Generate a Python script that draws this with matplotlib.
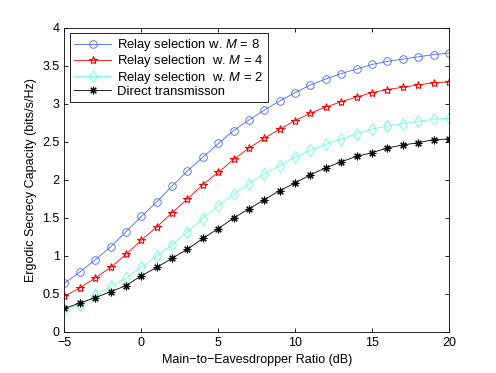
import numpy as np
import matplotlib
matplotlib.use("Agg")
import matplotlib.pyplot as plt

plt.rcParams['font.family'] = ['Liberation Sans', 'DejaVu Sans']
plt.rcParams['mathtext.fontset'] = 'custom'
plt.rcParams['mathtext.it'] = 'Liberation Sans:italic'
plt.rcParams['mathtext.rm'] = 'Liberation Sans'

mer_db = list(range(-5, 21))

relay_m8 = [0.64, 0.79, 0.95, 1.12, 1.32, 1.52, 1.71, 1.92, 2.12, 2.30,
            2.48, 2.65, 2.79, 2.92, 3.04, 3.15, 3.25, 3.33, 3.40, 3.46,
            3.52, 3.56, 3.59, 3.62, 3.65, 3.67]
relay_m4 = [0.47, 0.58, 0.71, 0.85, 1.02, 1.21, 1.38, 1.57, 1.75, 1.94,
            2.10, 2.27, 2.42, 2.55, 2.67, 2.78, 2.88, 2.96, 3.03, 3.09,
            3.15, 3.19, 3.22, 3.25, 3.28, 3.29]
relay_m2 = [0.29, 0.36, 0.48, 0.60, 0.71, 0.85, 1.00, 1.15, 1.32, 1.49,
            1.66, 1.81, 1.95, 2.08, 2.19, 2.30, 2.39, 2.47, 2.54, 2.61,
            2.67, 2.71, 2.74, 2.77, 2.80, 2.81]
direct = [0.31, 0.38, 0.45, 0.53, 0.61, 0.74, 0.85, 0.97, 1.09, 1.23,
          1.36, 1.50, 1.62, 1.74, 1.86, 1.96, 2.07, 2.16, 2.24, 2.31,
          2.36, 2.42, 2.46, 2.49, 2.53, 2.54]

fig = plt.figure(figsize=(4.96, 3.73), dpi=100)
ax = fig.add_axes([0.13, 0.11, 0.775, 0.815])

ms = 5.5
ax.plot(mer_db, relay_m8, '-o', color='#4466ff', mfc='none', ms=ms, lw=0.6, mew=0.6,
        label='Relay selection w. $M$ = 8')
ax.plot(mer_db, relay_m4, '-*', color='#ff0000', mfc='none', ms=ms + 0.5, lw=0.6, mew=0.8,
        label='Relay selection  w. $M$ = 4')
ax.plot(mer_db, relay_m2, '-d', color='#66ffcc', mfc='none', ms=ms + 0.5, lw=0.6, mew=0.6,
        label='Relay selection  w. $M$ = 2')
ax.plot(mer_db, direct, '-', marker=(8, 2, 0), color='black', ms=ms, lw=0.6, mew=0.8,
        label='Direct transmisson')

ax.set_xlim(-5, 20)
ax.set_ylim(0, 4)
ax.set_xticks([-5, 0, 5, 10, 15, 20])
ax.set_yticks(np.arange(0, 4.01, 0.5))
ax.set_yticklabels(['0', '0.5', '1', '1.5', '2', '2.5', '3', '3.5', '4'])
ax.tick_params(direction='in', top=True, right=True, labelsize=9, length=3, width=0.6)
for s in ax.spines.values():
    s.set_linewidth(0.6)

ax.set_xlabel('Main\u2212to\u2212Eavesdropper Ratio (dB)', fontsize=9)
ax.set_ylabel('Ergodic Secrecy Capacity (bits/s/Hz)', fontsize=9)

leg = ax.legend(loc='upper left', fontsize=9.4, fancybox=False, edgecolor='black',
                framealpha=1, borderpad=0.3, labelspacing=0.02, handlelength=2.9,
                handletextpad=0.45, borderaxespad=0.4)
leg.get_frame().set_linewidth(0.6)

fig.savefig('out.png', dpi=100)
